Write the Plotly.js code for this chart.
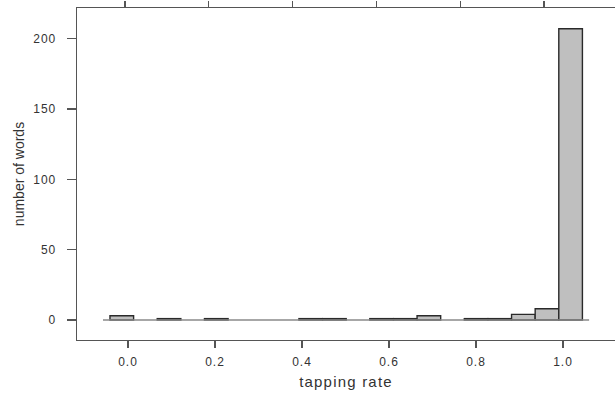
<!DOCTYPE html>
<html>
<head>
<meta charset="utf-8">
<script src="https://cdn.plot.ly/plotly-3.0.1.min.js"></script>
<style>
html,body{margin:0;padding:0;background:#fff;}
#chart{width:615px;height:393px;}
#chart .xtick text, #chart .ytick text{letter-spacing:1px;}
#chart .xtitle{letter-spacing:1.2px;}
</style>
</head>
<body>
<div id="chart"></div>
<script>
// Histogram bins (tapping rate) and counts (number of words)
const binStart = -0.0414;
const binWidth = 0.0543;
const counts = [3, 0, 1, 0, 1, 0, 0, 0, 1, 1, 0, 1, 1, 3, 0, 1, 1, 4, 8, 207];
const xTickVals = [0, 0.2, 0.4, 0.6, 0.8, 1.0];
const xTickText = ["0.0", "0.2", "0.4", "0.6", "0.8", "1.0"];
const yTickVals = [0, 50, 100, 150, 200];
const baselineRange = [-0.0575, 1.06];

const centers = counts.map((c, i) => binStart + binWidth * (i + 0.5));
const bx = [], by = [];
counts.forEach((c, i) => { if (c > 0) { bx.push(centers[i]); by.push(c); } });

const font = "Liberation Sans, Arial, sans-serif";
const axisCol = "#555555";
const txtCol = "#333333";

const data = [
  {type: "bar", x: bx, y: by, width: binWidth,
   marker: {color: "#bfbfbf", line: {color: "#2a2a2a", width: 1.4}},
   hoverinfo: "skip", showlegend: false},
  {type: "scatter", mode: "markers", x: [], y: [], xaxis: "x2", yaxis: "y", showlegend: false}
];

const layout = {
  width: 615, height: 393,
  margin: {l: 77, r: 0, t: 8, b: 53},
  paper_bgcolor: "#fff", plot_bgcolor: "#fff",
  font: {family: font, color: txtCol, size: 13},
  bargap: 0,
  xaxis: {
    range: [-0.1172, 1.1195], tickvals: xTickVals, ticktext: xTickText,
    ticks: "outside", ticklen: 7, tickwidth: 1.3, tickcolor: axisCol,
    showline: true, linecolor: axisCol, linewidth: 1.3,
    showgrid: false, zeroline: false, ticklabelstandoff: 3,
    tickfont: {size: 12, color: txtCol},
    title: {text: "tapping rate", font: {size: 15, color: txtCol}, standoff: 8},
    automargin: false
  },
  xaxis2: {
    overlaying: "x", side: "top", anchor: "y",
    range: [-0.1146, 1.1695], tickvals: xTickVals,
    showticklabels: false, ticks: "outside", ticklen: 6, tickwidth: 1.3, tickcolor: axisCol,
    showline: true, linecolor: axisCol, linewidth: 1.3,
    showgrid: false, zeroline: false
  },
  yaxis: {
    range: [-14.2, 221.8], tickvals: yTickVals,
    ticks: "outside", ticklen: 9, tickwidth: 1.3, tickcolor: axisCol,
    showline: true, linecolor: axisCol, linewidth: 1.3,
    showgrid: false, zeroline: false, ticklabelstandoff: 8,
    tickfont: {size: 12, color: txtCol},
    title: {text: "number of words", font: {size: 14, color: txtCol}, standoff: 8},
    automargin: false
  },
  shapes: [
    {type: "line", xref: "x", yref: "y", x0: baselineRange[0], x1: baselineRange[1], y0: 0, y1: 0,
     line: {color: "#8a8a8a", width: 1.6}, layer: "above"}
  ]
};

Plotly.newPlot("chart", data, layout, {displayModeBar: false, staticPlot: true});
</script>
</body>
</html>
